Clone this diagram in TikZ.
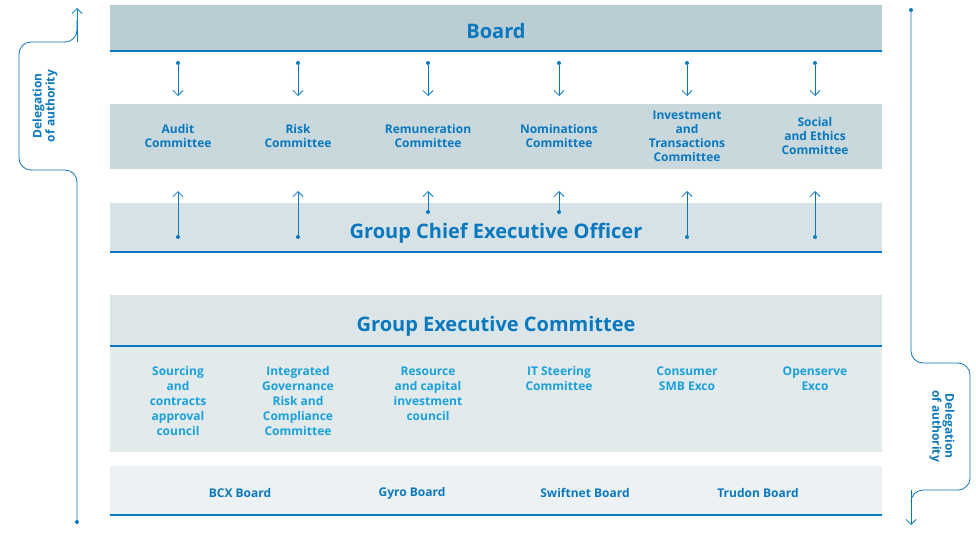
\documentclass[tikz,border=0pt]{standalone}
\usepackage{fontspec}
\setmainfont{Open Sans}
\usetikzlibrary{arrows.meta}
\definecolor{bl}{HTML}{0A78BE}
\definecolor{cy}{HTML}{1AA0DA}
\definecolor{b1}{HTML}{BACDD3}
\definecolor{b2}{HTML}{C9D8DD}
\definecolor{b3}{HTML}{D6E2E5}
\definecolor{b4}{HTML}{DCE6E9}
\definecolor{b5}{HTML}{E3EAEC}
\definecolor{b6}{HTML}{ECF1F3}
\begin{document}
\begin{tikzpicture}[x=1pt,y=-1pt,
  band/.style={draw=none},
  bline/.style={bl,line width=2pt},
  it/.style={font=\bfseries\fontsize{12}{14}\selectfont,text=bl,align=center},
  git/.style={font=\bfseries\fontsize{12}{15}\selectfont,text=cy,align=center},
  ttl/.style={font=\bfseries\fontsize{20}{22}\selectfont,text=bl},
  arr/.style={bl,line width=0.8pt,-{Straight Barb[length=5pt,width=10pt]}},
  dot/.style={circle,fill=bl,inner sep=0pt,minimum size=4pt}]
\useasboundingbox (0,0) rectangle (976,538);
\fill[b1] (110,5) rectangle (882,50);
\draw[bline] (110,51) -- (882,51);
\fill[b2] (110,104) rectangle (882,169);
\fill[b3] (110,203) rectangle (882,251);
\draw[bline] (110,252) -- (882,252);
\fill[b4] (110,295) rectangle (882,345);
\draw[bline] (110,346) -- (882,346);
\fill[b5] (110,347) rectangle (882,452);
\fill[b6] (110,466) rectangle (882,514);
\draw[bline] (110,515) -- (882,515);
\node[ttl] (board) at (496,31) {Board};
\node[ttl] (gceo) at (496,233) {Group Chief Executive Officer};
\node[ttl] (gec) at (496,326) {Group Executive Committee};
\foreach \x/\t/\y [count=\i] in {178/Audit\\Committee/136,298/Risk\\Committee/136,428/Remuneration\\Committee/136,559/Nominations\\Committee/136,687/Investment\\and\\Transactions\\Committee/136,815/Social\\and Ethics\\Committee/136}{
  \node[it] (c\i) at (\x,\y) {\t};
  \node[dot] (d\i) at (\x,63) {};
  \coordinate (e\i) at (\x,96);
  \draw[arr] (d\i) -- (e\i);
}
\foreach \x/\s [count=\i] in {178/237,298/237,428/212,559/212,687/237,815/237}{
  \node[dot] (u\i) at (\x,\s) {};
  \coordinate (v\i) at (\x,191);
  \draw[arr] (u\i) -- (v\i);
}
\node[git,anchor=north] (g1) at (178,363) {Sourcing\\and\\contracts\\approval\\council};
\node[git,anchor=north] (g2) at (298,363) {Integrated\\Governance\\Risk and\\Compliance\\Committee};
\node[git,anchor=north] (g3) at (428,363) {Resource\\and capital\\investment\\council};
\node[git,anchor=north] (g4) at (559,363) {IT Steering\\Committee};
\node[git,anchor=north] (g5) at (687,363) {Consumer\\SMB Exco};
\node[git,anchor=north] (g6) at (815,363) {Openserve\\Exco};
\foreach \x/\t [count=\i] in {240/BCX Board,412/Gyro Board,585/Swiftnet Board,758/Trudon Board}
  \node[it] (bb\i) at (\x,493) {\t};
% left delegation
\node[dot] (ld) at (77,522) {};
\coordinate (lt) at (77,8);
\draw[bl,line width=0.8pt,rounded corners=12pt] (ld) -- (77,170) -- (19,170) -- (19,42) -- (77,42) -- (77,20);
\draw[arr] (77,42) -- (lt);
\node[font=\bfseries\fontsize{12}{13}\selectfont,text=bl,align=center,rotate=90] (ltx) at (45,106) {Delegation\\of authority};
% right delegation
\node[dot] (rd) at (911,10) {};
\coordinate (rt) at (911,525);
\draw[bl,line width=0.8pt,rounded corners=12pt] (rd) -- (911,363) -- (970,363) -- (970,490) -- (911,490) -- (911,500);
\draw[arr] (911,490) -- (rt);
\node[font=\bfseries\fontsize{12}{13}\selectfont,text=bl,align=center,rotate=-90] (rtx) at (942,426) {Delegation\\of authority};
\end{tikzpicture}
\end{document}
